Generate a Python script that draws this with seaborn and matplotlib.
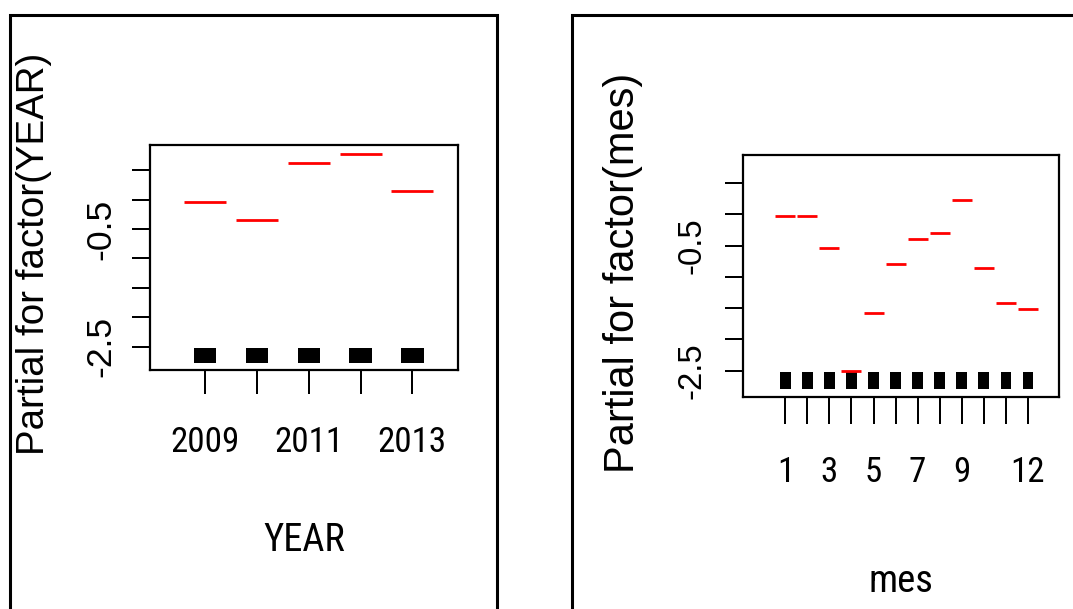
import matplotlib
matplotlib.use("Agg")
import matplotlib.pyplot as plt
import seaborn as sns
import pandas as pd
from matplotlib import font_manager as fm
from matplotlib.ft2font import FT2Font
from matplotlib.patches import Rectangle

# ---------------- data ----------------
years = [2009, 2010, 2011, 2012, 2013]
year_effect = [-0.04, -0.35, 0.62, 0.77, 0.15]
year_tick_labels = ["2009", "", "2011", "", "2013"]

months = [1, 2, 3, 4, 5, 6, 7, 8, 9, 10, 11, 12]
month_effect = [-0.03, -0.03, -0.54, -2.50, -1.58, -0.80, -0.39, -0.29, 0.23, -0.85, -1.42, -1.52]
month_tick_labels = ["1", "", "3", "", "5", "", "7", "", "9", "", "", "12"]

y_ticks = [-2.5, -2.0, -1.5, -1.0, -0.5, 0.0, 0.5]
y_tick_labels = ["-2.5", "", "", "", "-0.5", "", ""]

# ---------------- style ----------------
sns.set_theme(style="ticks")
plt.rcParams["font.family"] = ["Liberation Sans", "DejaVu Sans"]


def ink_size(path, text):
    f = FT2Font(path)
    f.set_size(100, 72)
    f.set_text(text)
    w, h = f.get_width_height()
    return w / 64.0, h / 64.0


NEEDED = "YEARmes0123456789"
ALLOWED = {"DejaVu Sans", "Liberation Sans", "Liberation Sans Narrow", "Noto Sans",
           "Roboto", "Open Sans", "Lato", "Inter"}
FAMILY_ROOTS = ("Noto Sans", "Roboto", "Open Sans", "DejaVu Sans", "Liberation Sans")


def acceptable(name):
    if name in ALLOWED:
        return True
    if any(name.startswith(r) for r in FAMILY_ROOTS) and ("Condensed" in name or "Narrow" in name):
        return True
    return False


def narrowest_sans():
    best = None
    for f in fm.fontManager.ttflist:
        if not acceptable(f.name) or f.style != "normal":
            continue
        wt = f.weight if isinstance(f.weight, int) else fm.weight_dict.get(str(f.weight), 400)
        if wt != 400:
            continue
        try:
            ft = FT2Font(f.fname)
            if any(ft.get_char_index(ord(c)) == 0 for c in NEEDED):
                continue
            w, h = ink_size(f.fname, "2009")
        except Exception:
            continue
        ratio = w / h
        if best is None or ratio < best[0]:
            best = (ratio, f.fname)
    return best[1] if best else fm.findfont(fm.FontProperties(family="DejaVu Sans"))


NARROW = narrowest_sans()
REGULAR = fm.findfont(fm.FontProperties(family="Liberation Sans"))


def fit_pt(path, text, tw, th):
    w, h = ink_size(path, text)
    em = ((tw / w * 100) * (th / h * 100)) ** 0.5
    return em * 0.72


def fprop(path, size):
    return fm.FontProperties(fname=path, size=size)


W, H = 1073, 609
fig = plt.figure(figsize=(W / 100, H / 100), dpi=100)
fig.patch.set_facecolor("white")

# window frames
fig.add_artist(Rectangle((10 / W, -0.05), (497 - 10) / W, (1 - 15 / H) + 0.05,
                         transform=fig.transFigure, fill=False, lw=2.2, ec="black"))
fig.add_artist(Rectangle((572 / W, -0.05), 1.1 - 572 / W, (1 - 15 / H) + 0.05,
                         transform=fig.transFigure, fill=False, lw=2.2, ec="black"))


def px_axes(x0, y0, x1, y1):
    return fig.add_axes([x0 / W, 1 - y1 / H, (x1 - x0) / W, (y1 - y0) / H])


panels = [
    dict(box=(150, 145, 458, 370), x=years, y=year_effect, xt=year_tick_labels,
         xlim=(2007.94, 2013.88), ylim=(-2.896, 0.930), seg_px=43,
         rug_w=0.43, rug_bottom=-2.782, rug_h=0.255,
         xlabel="YEAR", ylabel="Partial for factor(YEAR)", ylab_size=27.7,
         ylab_xy=(-0.318, 0.5156), xlab_y=-0.675, xtick_len=17.3, ytick_pad=10.4,
         xtick_fit=("2009", 58, 30.7), xlab_fit=("YEAR", 73, 30.7),
         ytick_fit=("-0.5", 70, 22)),
    dict(box=(743, 155, 1059, 396.7), x=months, y=month_effect, xt=month_tick_labels,
         xlim=(-0.925, 13.42), ylim=(-2.916, 0.951), seg_px=19.3,
         rug_w=0.47, rug_bottom=-2.793, rug_h=0.267,
         xlabel="mes", ylabel="Partial for factor(mes)", ylab_size=30,
         ylab_xy=(-0.318, 0.512), xlab_y=-0.69, xtick_len=19.4, ytick_pad=12.6,
         xtick_fit=("12", 27.7, 31.7), xlab_fit=("mes", 52.3, 26.7),
         ytick_fit=("-0.5", 63, 21)),
]

for p in panels:
    ax = px_axes(*p["box"])
    df = pd.DataFrame({"level": p["x"], "effect": p["y"]})

    # rug (dense jittered ticks appear as solid black blocks)
    ax.bar(df["level"], p["rug_h"], bottom=p["rug_bottom"], width=p["rug_w"],
           color="black", edgecolor="black", linewidth=0, zorder=2)

    # partial effect for each factor level
    seg_pt = p["seg_px"] * 0.72
    sns.scatterplot(data=df, x="level", y="effect", ax=ax, marker="_",
                    s=seg_pt ** 2, color="red", linewidth=2.0, zorder=3, legend=False)

    ax.set_xlim(*p["xlim"])
    ax.set_ylim(*p["ylim"])

    ax.set_xticks(p["x"])
    ax.set_xticklabels(p["xt"], fontproperties=fprop(NARROW, fit_pt(NARROW, *p["xtick_fit"])))
    ax.set_yticks(y_ticks)
    ax.set_yticklabels(y_tick_labels, rotation=90, va="center",
                       fontproperties=fprop(REGULAR, fit_pt(REGULAR, *p["ytick_fit"])))

    ax.tick_params(axis="x", direction="out", length=p["xtick_len"], width=1.44,
                   pad=23, colors="black")
    ax.tick_params(axis="y", direction="out", length=13, width=1.44,
                   pad=p["ytick_pad"], colors="black")
    for sp in ax.spines.values():
        sp.set_visible(True)
        sp.set_linewidth(1.6)
        sp.set_color("black")

    ax.set_xlabel(p["xlabel"], fontproperties=fprop(NARROW, fit_pt(NARROW, *p["xlab_fit"])),
                  color="black")
    ax.set_ylabel(p["ylabel"], fontproperties=fprop(REGULAR, p["ylab_size"]), color="black")
    ax.xaxis.set_label_coords(0.5, p["xlab_y"])
    ax.yaxis.set_label_coords(*p["ylab_xy"])
    ax.set_facecolor("white")
    ax.grid(False)

fig.savefig("out.png", dpi=100, facecolor="white")
